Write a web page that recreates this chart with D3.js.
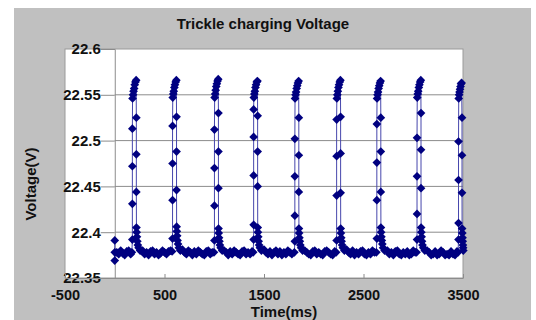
<!DOCTYPE html>
<html>
<head>
<meta charset="utf-8">
<script src="https://cdn.jsdelivr.net/npm/d3@7"></script>
<style>
  body { margin: 0; background: #fff; }
  svg { display: block; font-family: "Liberation Sans", Arial, sans-serif; }
</style>
</head>
<body>
<div class="viz"></div>
<script>
// values
const chartTitle = "Trickle charging Voltage";
const xTitle = "Time(ms)";
const yTitle = "Voltage(V)";
const xTicks = [-500, 500, 1500, 2500, 3500];
const yTicks = [22.35, 22.4, 22.45, 22.5, 22.55, 22.6];
const yGrid = [22.4, 22.45, 22.5, 22.55];

// first samples at t = 0
const startPoints = [[0, 22.391], [0, 22.369], [0, 22.378]];

// flat parts between pulses, one sample every 20 ms
const baseStep = 20;
const baseStarts = [20, 280, 680, 1100, 1500, 1910, 2330, 2740, 3140];
const base0 = [22.378, 22.376, 22.380, 22.377, 22.375, 22.379, 22.380, 22.376];
const base1 = [22.380, 22.376, 22.378, 22.375, 22.379, 22.380, 22.376, 22.378, 22.375, 22.377, 22.380, 22.378, 22.376, 22.379, 22.380];
const base2 = [22.381, 22.378, 22.376, 22.380, 22.378, 22.375, 22.379, 22.376, 22.380, 22.378, 22.376, 22.375, 22.379, 22.380, 22.376, 22.378];
const base3 = [22.380, 22.378, 22.375, 22.379, 22.376, 22.380, 22.378, 22.376, 22.375, 22.379, 22.380, 22.376, 22.378, 22.376, 22.379];
const base4 = [22.381, 22.378, 22.376, 22.379, 22.375, 22.378, 22.380, 22.376, 22.379, 22.375, 22.378, 22.376, 22.380, 22.378, 22.376];
const base5 = [22.380, 22.378, 22.376, 22.375, 22.379, 22.380, 22.376, 22.378, 22.376, 22.375, 22.379, 22.380, 22.378, 22.376, 22.375, 22.379];
const base6 = [22.381, 22.378, 22.376, 22.380, 22.375, 22.378, 22.376, 22.379, 22.380, 22.376, 22.375, 22.378, 22.376, 22.380, 22.378];
const base7 = [22.380, 22.376, 22.378, 22.375, 22.379, 22.380, 22.376, 22.375, 22.378, 22.376, 22.379, 22.375, 22.376, 22.380, 22.378];
const base8 = [22.380, 22.378, 22.375, 22.376, 22.379, 22.375, 22.376, 22.380, 22.378, 22.375, 22.376, 22.375, 22.379, 22.376, 22.375, 22.379];

// charging pulses [time ms, volts]
const pulse1 = [[172,22.378],[177,22.392],[177,22.431],[177,22.472],[177,22.513],[179,22.546],[184,22.550],[189,22.554],[195,22.557],[201,22.561],[208,22.564],[215,22.566],[217,22.525],[217,22.485],[217,22.444],[218,22.405],[220,22.400],[223,22.395],[227,22.390],[232,22.386],[240,22.383],[255,22.380]];
const pulse2 = [[576,22.379],[581,22.393],[581,22.435],[581,22.475],[581,22.516],[583,22.547],[588,22.551],[593,22.554],[599,22.558],[605,22.561],[612,22.564],[619,22.566],[621,22.526],[621,22.488],[621,22.446],[622,22.406],[624,22.401],[627,22.396],[631,22.391],[636,22.387],[644,22.383],[659,22.380]];
const pulse3 = [[997,22.378],[1002,22.391],[1002,22.429],[1002,22.470],[1002,22.512],[1004,22.547],[1009,22.551],[1014,22.555],[1020,22.559],[1026,22.562],[1033,22.565],[1040,22.567],[1042,22.530],[1042,22.488],[1042,22.448],[1043,22.404],[1045,22.399],[1048,22.394],[1052,22.390],[1057,22.386],[1065,22.383],[1080,22.380]];
const pulse4 = [[1391,22.378],[1396,22.392],[1396,22.408],[1396,22.462],[1396,22.504],[1396,22.534],[1398,22.547],[1403,22.551],[1408,22.554],[1414,22.558],[1420,22.561],[1427,22.564],[1434,22.565],[1436,22.527],[1436,22.488],[1436,22.450],[1437,22.405],[1439,22.400],[1442,22.395],[1446,22.390],[1451,22.386],[1459,22.383],[1474,22.380]];
const pulse5 = [[1805,22.378],[1810,22.390],[1810,22.418],[1810,22.461],[1810,22.502],[1812,22.546],[1817,22.550],[1822,22.553],[1828,22.557],[1834,22.560],[1841,22.563],[1848,22.565],[1850,22.525],[1850,22.484],[1850,22.444],[1851,22.404],[1853,22.399],[1856,22.394],[1860,22.390],[1865,22.386],[1873,22.383],[1888,22.380]];
const pulse6 = [[2225,22.378],[2230,22.391],[2230,22.440],[2230,22.483],[2230,22.523],[2232,22.546],[2237,22.550],[2242,22.554],[2248,22.558],[2254,22.561],[2261,22.564],[2268,22.566],[2270,22.526],[2270,22.486],[2270,22.443],[2271,22.404],[2273,22.399],[2276,22.394],[2280,22.390],[2285,22.386],[2293,22.383],[2308,22.380]];
const pulse7 = [[2629,22.378],[2634,22.393],[2634,22.435],[2634,22.476],[2634,22.518],[2636,22.546],[2641,22.550],[2646,22.553],[2652,22.557],[2658,22.560],[2665,22.563],[2672,22.565],[2674,22.525],[2674,22.488],[2674,22.444],[2675,22.405],[2677,22.400],[2680,22.395],[2684,22.391],[2689,22.387],[2697,22.383],[2712,22.380]];
const pulse8 = [[3033,22.378],[3038,22.392],[3038,22.420],[3038,22.461],[3038,22.503],[3040,22.547],[3045,22.551],[3050,22.554],[3056,22.558],[3062,22.561],[3069,22.564],[3076,22.566],[3078,22.530],[3078,22.490],[3078,22.448],[3079,22.405],[3081,22.400],[3084,22.395],[3088,22.390],[3093,22.386],[3101,22.383],[3116,22.380]];
const pulse9 = [[3450,22.378],[3455,22.392],[3455,22.410],[3455,22.457],[3455,22.499],[3457,22.546],[3461,22.550],[3465,22.553],[3470,22.556],[3475,22.559],[3480,22.562],[3486,22.563],[3490,22.525],[3490,22.484],[3490,22.443],[3491,22.404],[3493,22.399],[3495,22.394],[3497,22.390],[3499,22.386],[3501,22.383],[3503,22.380]];

const baseLists = [base0, base1, base2, base3, base4, base5, base6, base7, base8];
const pulses = [pulse1, pulse2, pulse3, pulse4, pulse5, pulse6, pulse7, pulse8, pulse9];

// stitch the trace together in time order
let trace = startPoints.slice();
baseLists.forEach((vals, i) => {
  vals.forEach((v, j) => trace.push([baseStarts[i] + j * baseStep, v]));
  pulses[i].forEach(p => trace.push(p));
});

const width = 536, height = 320;
const svg = d3.select(".viz").append("svg")
  .attr("width", width)
  .attr("height", height);

// grey chart area
svg.append("rect")
  .attr("x", 14).attr("y", 8)
  .attr("width", 517).attr("height", 312)
  .attr("fill", "#c0c0c0");

const x = d3.scaleLinear().domain([-500, 3500]).range([65, 463]);
const y = d3.scaleLinear().domain([22.35, 22.6]).range([278, 49]);

// plot area
svg.append("rect")
  .attr("x", x(-500)).attr("y", y(22.6))
  .attr("width", x(3500) - x(-500)).attr("height", y(22.35) - y(22.6))
  .attr("fill", "#fff")
  .attr("stroke", "#9a9a9a")
  .attr("stroke-width", 1);

svg.append("g")
  .selectAll("line")
  .data(yGrid)
  .enter().append("line")
  .attr("x1", x(0)).attr("x2", x(3500))
  .attr("y1", d => y(d)).attr("y2", d => y(d))
  .attr("stroke", "#8c8c8c")
  .attr("stroke-width", 1);

// y axis crosses at t = 0
const yAxis = d3.axisLeft(y)
  .tickValues(yTicks)
  .tickSize(14)
  .tickPadding(0)
  .tickFormat(d => String(+d.toFixed(2)));

const gy = svg.append("g")
  .attr("transform", `translate(${x(0)},0)`)
  .call(yAxis);
gy.select(".domain").attr("stroke", "#8c8c8c");
gy.selectAll(".tick line").attr("stroke", "#8c8c8c");
gy.selectAll(".tick text")
  .attr("fill", "#111")
  .style("font-size", "15px")
  .style("font-weight", "bold");

const xAxis = d3.axisBottom(x)
  .tickValues(xTicks)
  .tickSizeInner(-4)
  .tickSizeOuter(0)
  .tickPadding(12)
  .tickFormat(d => String(d));

const gx = svg.append("g")
  .attr("transform", `translate(0,${y(22.35)})`)
  .call(xAxis);
gx.select(".domain").attr("stroke", "#8c8c8c");
gx.selectAll(".tick line").attr("stroke", "#8c8c8c");
gx.selectAll(".tick text")
  .attr("fill", "#111")
  .style("font-size", "14.5px")
  .style("font-weight", "bold");

// the trace
const line = d3.line()
  .x(d => x(d[0]))
  .y(d => y(d[1]));

svg.append("path")
  .datum(trace)
  .attr("d", line)
  .attr("fill", "none")
  .attr("stroke", "#4646ac")
  .attr("stroke-width", 1);

const marker = d3.symbol().type(d3.symbolSquare).size(38);
svg.append("g")
  .selectAll("path")
  .data(trace)
  .enter().append("path")
  .attr("d", marker)
  .attr("transform", d => `translate(${x(d[0])},${y(d[1])}) rotate(45)`)
  .attr("fill", "#000080");

// titles
svg.append("text")
  .attr("x", 263).attr("y", 29)
  .attr("text-anchor", "middle")
  .style("font-size", "15px")
  .style("font-weight", "bold")
  .attr("fill", "#111")
  .text(chartTitle);

svg.append("text")
  .attr("x", 284).attr("y", 317)
  .attr("text-anchor", "middle")
  .style("font-size", "15px")
  .style("font-weight", "bold")
  .attr("fill", "#111")
  .text(xTitle);

svg.append("text")
  .attr("transform", "translate(36,184) rotate(-90)")
  .attr("text-anchor", "middle")
  .style("font-size", "15px")
  .style("font-weight", "bold")
  .attr("fill", "#111")
  .text(yTitle);
</script>
</body>
</html>
